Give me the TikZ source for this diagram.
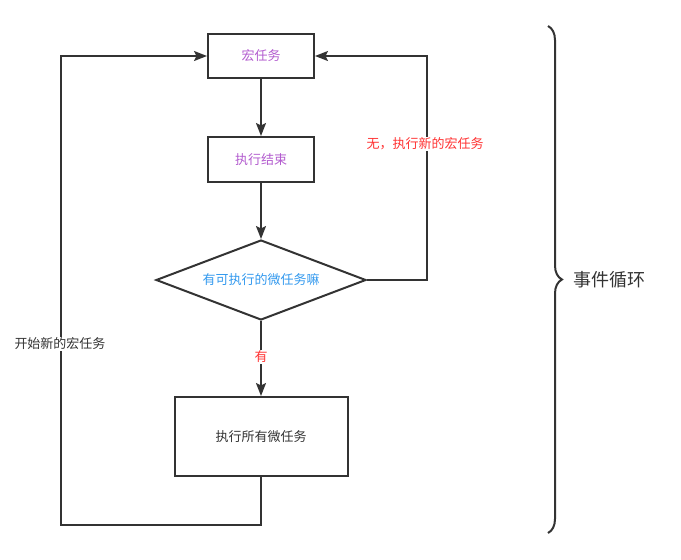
\documentclass[tikz,border=0pt]{standalone}
\usepackage{fontspec}
\newfontfamily\cjk{Noto Sans CJK SC}
\usetikzlibrary{arrows.meta,shapes.geometric,decorations.pathreplacing}
\definecolor{linec}{HTML}{333333}
\definecolor{purp}{HTML}{B35CCF}
\definecolor{bluet}{HTML}{3399EE}
\definecolor{redt}{HTML}{FF3333}
\begin{document}
\begin{tikzpicture}[x=1pt,y=-1pt,
  every node/.style={font=\cjk\fontsize{13}{15}\selectfont},
  procbox/.style={draw=linec,line width=2pt,fill=white,inner sep=0pt},
  decision/.style={diamond,draw=linec,line width=2pt,aspect=2.625,inner sep=0pt,
    minimum width=210pt,minimum height=80pt},
  flow/.style={draw=linec,line width=2pt,-{Stealth[length=13pt,width=10pt,inset=2.5pt]}},
  edgelabel/.style={fill=white,inner sep=1pt}]
\useasboundingbox (0,0) rectangle (681,560);

\node[procbox,minimum width=106pt,minimum height=44pt,text=purp] (macro) at (261,56) {宏任务};
\node[procbox,minimum width=106pt,minimum height=45pt,text=purp] (done) at (261,159.5) {执行结束};
\node[decision,text=bluet] (check) at (261,280) {有可执行的微任务嘛};
\node[procbox,minimum width=173pt,minimum height=79pt,text=black!80] (micro) at (261,436.5) {执行所有微任务};

\coordinate (rtop) at (427,56);
\coordinate (rmid) at (427,280);
\coordinate (lbot) at (61,525);
\coordinate (mbot) at (261,525);
\coordinate (ltop) at (61,56);

\draw[flow] (macro) -- (done);
\draw[flow] (done) -- (check);
\draw[flow] (check) -- node[edgelabel,text=redt,pos=0.48] (yes) {有} (micro);
\draw[flow] (check.east) -- (rmid) -- (rtop) -- (macro.east);
\draw[flow] (micro.south) -- (mbot) -- (lbot) -- (ltop) -- (macro.west);

\node[edgelabel,text=redt] (none) at (425,144) {无，执行新的宏任务};
\node[edgelabel,text=black!80] (restart) at (60,344) {开始新的宏任务};

\coordinate (btop) at (548,26);
\coordinate (bbot) at (548,533);
\draw[linec,line width=2pt,decorate,decoration={brace,amplitude=14pt}] (btop) -- (bbot);
\node[anchor=west,text=black!80,font=\cjk\fontsize{18}{21}\selectfont] (loop) at (570,280) {事件循环};
\end{tikzpicture}
\end{document}
